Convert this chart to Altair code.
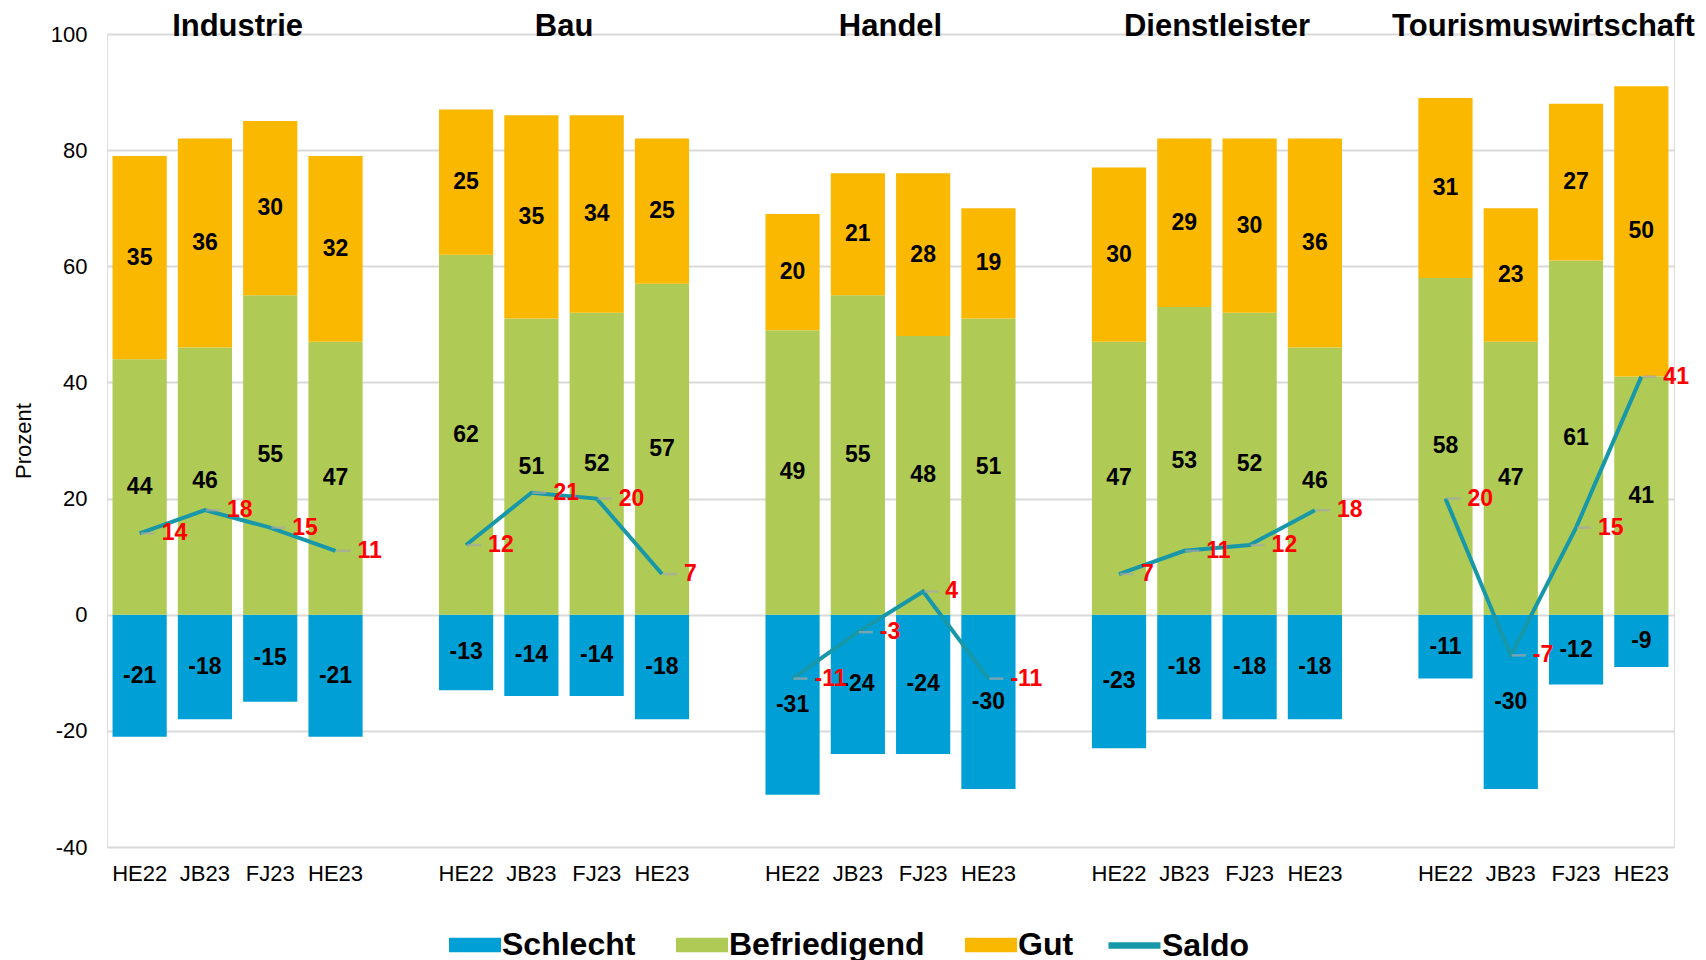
import altair as alt
import pandas as pd

# ---------------- data ----------------
groups = ["Industrie", "Bau", "Handel", "Dienstleister", "Tourismuswirtschaft"]
periods = ["HE22", "JB23", "FJ23", "HE23"]
categories = ["Schlecht", "Befriedigend", "Gut"]

schlecht = [[-21, -18, -15, -21], [-13, -14, -14, -18], [-31, -24, -24, -30],
            [-23, -18, -18, -18], [-11, -30, -12, -9]]
befriedigend = [[44, 46, 55, 47], [62, 51, 52, 57], [49, 55, 48, 51],
                [47, 53, 52, 46], [58, 47, 61, 41]]
gut = [[35, 36, 30, 32], [25, 35, 34, 25], [20, 21, 28, 19],
       [30, 29, 30, 36], [31, 23, 27, 50]]
saldo = [[14, 18, 15, 11], [12, 21, 20, 7], [-11, -3, 4, -11],
         [7, 11, 12, 18], [20, -7, 15, 41]]

y_ticks = [-40, -20, 0, 20, 40, 60, 80, 100]

# ---------------- styling ----------------
colors = ["#00A0D6", "#AFCB55", "#FAB800"]
saldo_color = "#1797A8"
FONT = "Liberation Sans"
W, H = 1567, 813

# ---------------- tables ----------------
slot_order = []
for i, g in enumerate(groups):
    if i > 0:
        slot_order.append(f"gap{i}")
    for p in periods:
        slot_order.append(f"{g}|{p}")

bar_rows, line_rows = [], []
for gi, g in enumerate(groups):
    for pi, p in enumerate(periods):
        slot = f"{g}|{p}"
        s, b, gu = schlecht[gi][pi], befriedigend[gi][pi], gut[gi][pi]
        bar_rows.append(dict(slot=slot, cat="Schlecht", y0=0, y1=s, mid=s / 2, label=str(s), order=0))
        bar_rows.append(dict(slot=slot, cat="Befriedigend", y0=0, y1=b, mid=b / 2, label=str(b), order=1))
        bar_rows.append(dict(slot=slot, cat="Gut", y0=b, y1=b + gu, mid=b + gu / 2, label=str(gu), order=2))
        line_rows.append(dict(slot=slot, group=g, saldo=saldo[gi][pi], serie="Saldo", label=str(saldo[gi][pi])))
bars_df = pd.DataFrame(bar_rows)
line_df = pd.DataFrame(line_rows)
title_df = pd.DataFrame(dict(slot=[f"{g}|{periods[1]}" for g in groups], name=groups))

step = W / len(slot_order)

x_enc = alt.X(
    "slot:N",
    sort=slot_order,
    scale=alt.Scale(domain=slot_order, paddingInner=0.17, paddingOuter=0.085),
    axis=alt.Axis(
        title=None,
        labelExpr="indexof(datum.value, '|') >= 0 ? split(datum.value, '|')[1] : ''",
        labelAngle=0,
        labelFontSize=22,
        labelFont=FONT,
        labelColor="#000000",
        labelPadding=16,
        ticks=False,
        domain=False,
        grid=False,
    ),
)
y_scale = alt.Scale(domain=[y_ticks[0], y_ticks[-1]], nice=False, zero=False)

LEG_Y = 895
legend_common = dict(
    title=None,
    orient="none",
    legendY=LEG_Y,
    direction="horizontal",
    symbolSize=676,
    labelFontSize=32,
    labelFont=FONT,
    labelFontWeight="bold",
    labelColor="#000000",
    labelOffset=11,
    labelLimit=400,
)

bars = alt.Chart(bars_df).mark_bar().encode(
    x=x_enc,
    y=alt.Y(
        "y0:Q",
        scale=y_scale,
        axis=alt.Axis(
            title="Prozent",
            values=y_ticks,
            labelExpr="datum.value + ''",
            titleFontSize=22,
            titleFont=FONT,
            titleFontWeight="normal",
            titleColor="#000000",
            titlePadding=15,
            labelFontSize=22,
            labelFont=FONT,
            labelColor="#000000",
            labelPadding=20,
            ticks=False,
            domain=False,
            grid=True,
            gridColor="#D9D9D9",
            gridWidth=2,
        ),
    ),
    y2="y1:Q",
    color=alt.Color(
        "cat:N",
        scale=alt.Scale(domain=categories, range=colors),
        legend=alt.Legend(
            legendX=352,
            symbolType="M-2,-0.55L2,-0.55L2,0.55L-2,0.55Z",
            symbolStrokeWidth=0,
            symbolOpacity=1,
            columnPadding=40,
            **legend_common,
        ),
    ),
    order=alt.Order("order:Q"),
)

bar_labels = alt.Chart(bars_df).mark_text(
    font=FONT, fontSize=23, fontWeight="bold", color="#000000", baseline="middle"
).encode(x=alt.X("slot:N", sort=slot_order), y="mid:Q", text="label:N")

line = alt.Chart(line_df).mark_line(strokeWidth=4).encode(
    x=alt.X("slot:N", sort=slot_order),
    y="saldo:Q",
    detail="group:N",
    color=alt.Color(
        "serie:N",
        scale=alt.Scale(domain=["Saldo"], range=[saldo_color]),
        legend=alt.Legend(
            legendX=1011,
            symbolType="M-2,0L2,0",
            symbolStrokeWidth=6.5,
            **legend_common,
        ),
    ),
)

ticks = alt.Chart(line_df).mark_tick(
    color="#A6A6A6", thickness=2.5, size=14, xOffset=8, orient="horizontal"
).encode(x=alt.X("slot:N", sort=slot_order), y="saldo:Q")

saldo_labels = alt.Chart(line_df).mark_text(
    font=FONT, fontSize=23, fontWeight="bold", color="#FF0000", align="left",
    baseline="middle", dx=22
).encode(x=alt.X("slot:N", sort=slot_order), y="saldo:Q", text="label:N")

titles = alt.Chart(title_df).mark_text(
    font=FONT, fontSize=31, fontWeight="bold", color="#000000", align="center",
    baseline="alphabetic", dx=step / 2, dy=2
).encode(x=alt.X("slot:N", sort=slot_order), y=alt.datum(y_ticks[-1]), text="name:N")

chart = (
    alt.layer(bars, bar_labels, line, ticks, saldo_labels, titles)
    .resolve_scale(color="independent")
    .properties(width=W, height=H, padding={"left": 4, "top": 3, "right": 0, "bottom": 0})
    .configure_view(strokeWidth=0)
    .configure(background="#FFFFFF")
)

chart.save("out.html", embed_options={"renderer": "svg", "actions": False})
